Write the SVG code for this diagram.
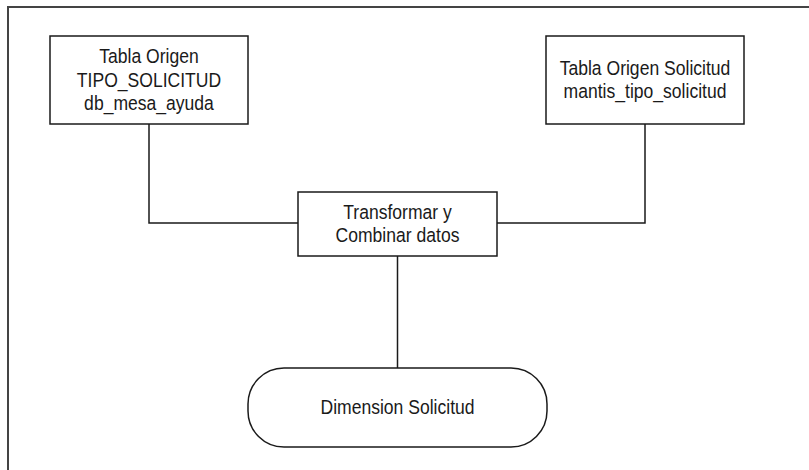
<svg xmlns="http://www.w3.org/2000/svg" width="809" height="470" viewBox="0 0 809 470">
  <style>
    .frame { fill: none; stroke: #444; stroke-width: 2; }
    .box { fill: #fff; stroke: #1a1a1a; stroke-width: 1.5; }
    .link { fill: none; stroke: #1a1a1a; stroke-width: 1.5; }
    .label { font-family: "Liberation Sans", Arial, sans-serif; font-size: 19.5px; fill: #1a1a1a; text-anchor: middle; }
  </style>
  <rect width="809" height="470" fill="#fff"/>
  <!-- page frame -->
  <path class="frame" d="M8,470 V7 H809"/>

  <g id="connectors">
    <path class="link" d="M149,124 V223 H298"/>
    <path class="link" d="M645,124 V223 H497"/>
    <path class="link" d="M397.5,256 V368"/>
  </g>

  <!-- labels use a slightly condensed face: scale(0.9 1) -->
  <g id="tabla-origen-tipo-solicitud">
    <rect class="box" x="50" y="36" width="198" height="88"/>
    <text class="label" transform="translate(149 63) scale(0.9 1)">Tabla Origen</text>
    <text class="label" transform="translate(149 86.5) scale(0.9 1)">TIPO_SOLICITUD</text>
    <text class="label" transform="translate(149 110) scale(0.9 1)">db_mesa_ayuda</text>
  </g>

  <g id="tabla-origen-solicitud">
    <rect class="box" x="546" y="36" width="198" height="88"/>
    <text class="label" transform="translate(645 75) scale(0.9 1)">Tabla Origen Solicitud</text>
    <text class="label" transform="translate(645 98) scale(0.9 1)">mantis_tipo_solicitud</text>
  </g>

  <g id="transformar">
    <rect class="box" x="298" y="192" width="199" height="64"/>
    <text class="label" transform="translate(397.5 219) scale(0.9 1)">Transformar y</text>
    <text class="label" transform="translate(397.5 242) scale(0.9 1)">Combinar datos</text>
  </g>

  <g id="dimension-solicitud">
    <rect class="box" x="248" y="368" width="299" height="79" rx="36" ry="36"/>
    <text class="label" transform="translate(397.5 414) scale(0.9 1)">Dimension Solicitud</text>
  </g>
</svg>
